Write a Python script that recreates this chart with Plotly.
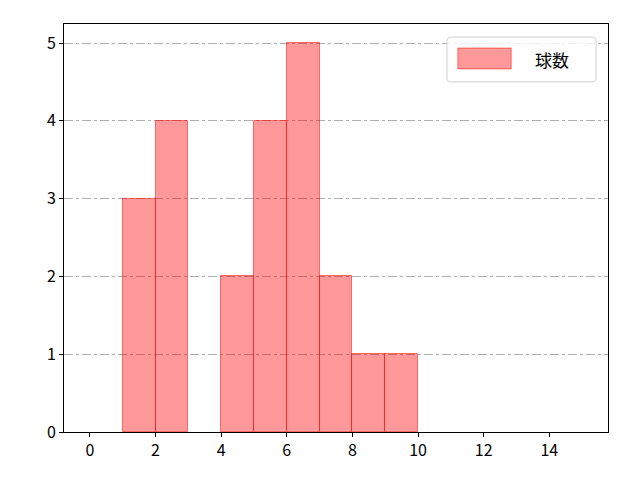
import plotly.graph_objects as go

bin_left = [1, 2, 3, 4, 5, 6, 7, 8, 9]
counts = [3, 4, 0, 2, 4, 5, 2, 1, 1]
bin_width = 1
series_name = "球数"
x_ticks = [0, 2, 4, 6, 8, 10, 12, 14]
y_ticks = [0, 1, 2, 3, 4, 5]

xs = [b + bin_width / 2 for b, c in zip(bin_left, counts) if c > 0]
ys = [c for c in counts if c > 0]

fig = go.Figure()
fig.add_trace(go.Bar(
    x=xs, y=ys, width=bin_width, name=series_name,
    marker=dict(color="rgba(255,0,0,0.4)", line=dict(color="rgba(255,0,0,0.5)", width=1)),
    showlegend=False,
))

# manual legend (matplotlib style)
def rounded(x0, y0, x1, y1, rx, ry):
    return (f"M {x0+rx},{y0} L {x1-rx},{y0} Q {x1},{y0} {x1},{y0+ry} "
            f"L {x1},{y1-ry} Q {x1},{y1} {x1-rx},{y1} L {x0+rx},{y1} "
            f"Q {x0},{y1} {x0},{y1-ry} L {x0},{y0+ry} Q {x0},{y0} {x0+rx},{y0} Z")

fig.add_shape(type="path", xref="paper", yref="paper",
              path=rounded(0.704, 0.858, 0.978, 0.968, 0.007, 0.01),
              fillcolor="rgba(255,255,255,0.8)", line=dict(color="#d0d0d0", width=1))
fig.add_shape(type="rect", xref="paper", yref="paper",
              x0=0.724, x1=0.822, y0=0.890, y1=0.941,
              fillcolor="rgba(255,0,0,0.4)", line=dict(color="rgba(255,0,0,0.5)", width=1))
fig.add_annotation(xref="paper", yref="paper", x=0.862, y=0.914, xanchor="left",
                   yanchor="middle", text=series_name, showarrow=False,
                   font=dict(size=17, color="black"))

font = "Noto Sans CJK JP, DejaVu Sans, sans-serif"
fig.update_layout(
    width=640, height=480,
    margin=dict(l=56, r=40, t=16, b=56),
    paper_bgcolor="white", plot_bgcolor="white",
    font=dict(family=font, size=16, color="black"),
    bargap=0,
    xaxis=dict(range=[-0.79, 15.79], tickvals=x_ticks, showgrid=False,
               showline=True, linecolor="black", linewidth=1, mirror=True,
               ticks="outside", ticklen=4, tickcolor="black", zeroline=False),
    yaxis=dict(range=[0, 5.245], tickvals=y_ticks, showgrid=True,
               gridcolor="#b0b0b0", griddash="dashdot", gridwidth=1,
               showline=True, linecolor="black", linewidth=1, mirror=True,
               ticks="outside", ticklen=4, tickcolor="black", zeroline=False),
)
fig.write_html("out.html")
